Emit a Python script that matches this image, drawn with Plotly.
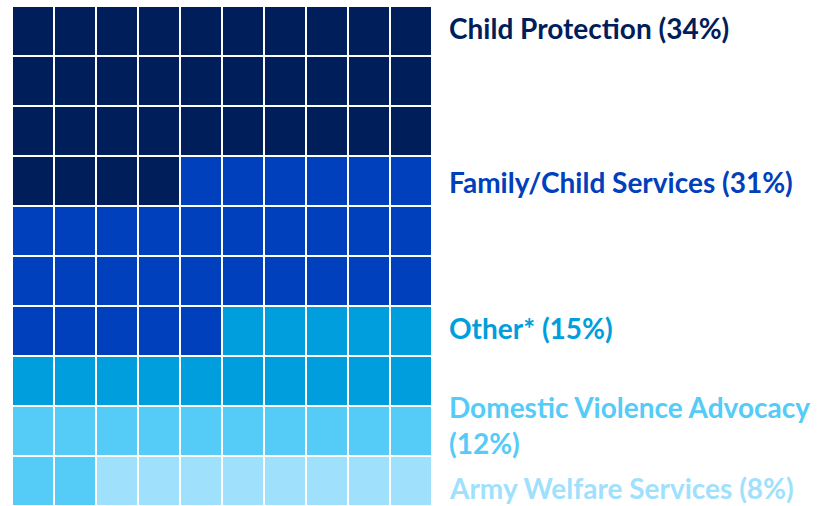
import plotly.graph_objects as go

categories = ["Child Protection", "Family/Child Services", "Other*",
              "Domestic Violence Advocacy", "Army Welfare Services"]
values = [34, 31, 15, 12, 8]
colors = ["#001E5A", "#0040BC", "#009EDC", "#55CBF8", "#9FE1FC"]
labels = ["Child Protection (34%)", "Family/Child Services (31%)",
          "Other* (15%)", "Domestic Violence Advocacy<br>(12%)",
          "Army Welfare Services (8%)"]
label_y_px = [28, 182, 328, 425, 488]

W, H = 837, 506
ncols, nrows = 10, 10

# build cell category index row-wise from top-left
seq = []
for i, v in enumerate(values):
    seq += [i] * v
z = [seq[r * ncols:(r + 1) * ncols] for r in range(nrows)]

n = len(colors)
colorscale = []
for i, c in enumerate(colors):
    colorscale.append([i / n, c])
    colorscale.append([(i + 1) / n, c])

fig = go.Figure(go.Heatmap(
    z=z, x=list(range(ncols)), y=list(range(nrows)),
    zmin=-0.5, zmax=n - 0.5, colorscale=colorscale, showscale=False,
    xgap=2, ygap=2, hoverinfo="skip"))

annotations = []
for t, ypx, c in zip(labels, label_y_px, colors):
    annotations.append(dict(
        text=t, x=447 / W, y=1 - ypx / H, xref="paper", yref="paper",
        xanchor="left", yanchor="middle", align="left", showarrow=False,
        font=dict(family="Lato", size=28, color=c, weight="bold")))

fig.update_layout(
    width=W, height=H, margin=dict(l=0, r=0, t=0, b=0),
    paper_bgcolor="white", plot_bgcolor="white",
    xaxis=dict(domain=[12 / W, 432 / W], visible=False, range=[-0.5, 9.5], fixedrange=True),
    yaxis=dict(domain=[0, 1 - 6 / H], visible=False, range=[9.5, -0.5], fixedrange=True),
    annotations=annotations, showlegend=False)

fig.write_html("out.html", config={"displayModeBar": False},
               post_script="document.body.style.margin='0';document.body.style.overflow='hidden';")
